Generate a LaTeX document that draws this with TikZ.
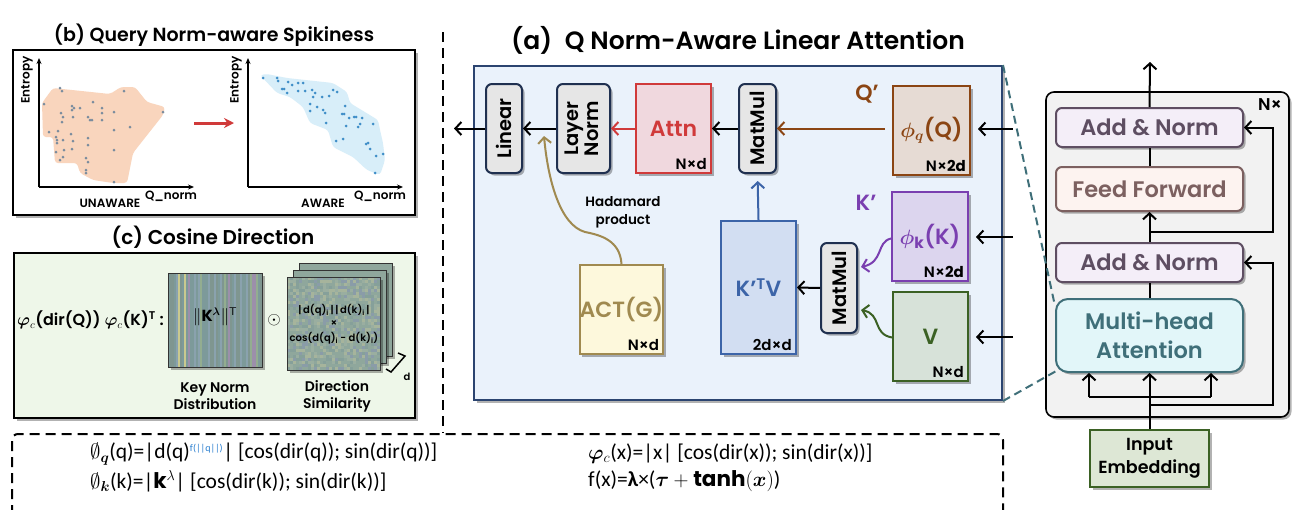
\documentclass[tikz,border=0pt]{standalone}
\usepackage{amsmath,amssymb,bm}
\usepackage{fontspec}
\setmainfont{Poppins}[UprightFont={* SemiBold},BoldFont={* Bold}]
\newfontfamily\formfont{Carlito}
\usetikzlibrary{arrows.meta,shadows,calc}
\newcommand{\myfs}[2]{\fontsize{#1}{#2}\selectfont}
\definecolor{bigfill}{HTML}{EAF2FB}
\definecolor{bigdraw}{HTML}{2B4470}
\definecolor{gfill}{HTML}{E6E6E6}
\definecolor{gdraw}{HTML}{1F3050}
\definecolor{attnfill}{HTML}{F0D8DE}
\definecolor{attnc}{HTML}{D03A3A}
\definecolor{qfill}{HTML}{E6DBD4}
\definecolor{qc}{HTML}{8B4513}
\definecolor{kfill}{HTML}{DCD5EE}
\definecolor{kc}{HTML}{7A3FB0}
\definecolor{vfill}{HTML}{D7E2D9}
\definecolor{vc}{HTML}{3B6124}
\definecolor{ktvfill}{HTML}{D2DEF2}
\definecolor{ktvc}{HTML}{3C64A8}
\definecolor{actfill}{HTML}{FDF8DC}
\definecolor{actc}{HTML}{A08A50}
\definecolor{tfill}{HTML}{F2F2F2}
\definecolor{anfill}{HTML}{F4EEF8}
\definecolor{anc}{HTML}{5E4E62}
\definecolor{fffill}{HTML}{FDF3F0}
\definecolor{ffc}{HTML}{7C6060}
\definecolor{mhafill}{HTML}{E2F6F9}
\definecolor{mhac}{HTML}{3F6F79}
\definecolor{infill}{HTML}{DDE7D5}
\definecolor{orblob}{HTML}{F9D5BD}
\definecolor{ordot}{HTML}{7A8C9E}
\definecolor{blblob}{HTML}{D8EEF9}
\definecolor{bldot}{HTML}{3F8EC8}
\definecolor{cfill}{HTML}{EEF7E9}
\definecolor{supblue}{HTML}{2A7FD0}
\definecolor{st1}{HTML}{7D9A9A}
\definecolor{st2}{HTML}{8AA2AE}
\definecolor{st3}{HTML}{9C8FAA}
\definecolor{st4}{HTML}{C9C98F}
\definecolor{st5}{HTML}{93AD90}
\definecolor{st6}{HTML}{7F9690}
\definecolor{nz1}{HTML}{8FA79C}
\definecolor{nz2}{HTML}{9AAEA0}
\definecolor{nz3}{HTML}{86A09A}
\definecolor{nz4}{HTML}{A6B49C}
\definecolor{nz5}{HTML}{8A9CA8}
\begin{document}
\begin{tikzpicture}[x=1pt,y=-1pt,
  arr/.style={line width=2pt,-{Straight Barb[length=6pt,width=13pt]}},
  plain/.style={line width=2pt},
  shad/.style={drop shadow={shadow xshift=2.5pt,shadow yshift=-2.5pt,opacity=0.3,fill=black}},
  box/.style={draw,line width=2pt,inner sep=0pt,shad},
  gbox/.style={box,rounded corners=6pt,fill=gfill,draw=gdraw,minimum height=89,font=\myfs{19.5}{23}},
  dimlab/.style={anchor=south east,inner sep=0pt,font=\myfs{15}{17}},
  bigtxt/.style={font=\myfs{22}{26}},
  tbox/.style={box,rounded corners=6pt,minimum width=187,font=\myfs{22.5}{27}},
  bdash/.style={line width=2pt,dash pattern=on 10pt off 6pt},
  tdash/.style={line width=2pt,draw=mhac,dash pattern=on 8pt off 5pt},
  odot/.style={fill=ordot,circle,inner sep=0pt,minimum size=3pt},
  bdot/.style={fill=bldot,circle,inner sep=0pt,minimum size=3pt},
  small/.style={font=\myfs{12}{14}},
  axis/.style={line width=1.2pt,-{Stealth[length=6pt,width=5pt]}}
]
\useasboundingbox (0,0) rectangle (1312,509);
\fill[white] (0,0) rectangle (1312,509);

% ================= panel (b) =================
\node[font=\myfs{19}{22}] (titleb) at (214,35) {(b) Query Norm-aware Spikiness};
\draw[line width=1.5pt,fill=white,shad] (13,50) rectangle (415,215);
\fill[orblob,rounded corners=3pt] (42,103) -- (53,88) -- (110,94) -- (121,87) -- (135,87) -- (147,102) -- (165,107) -- (163,115) -- (133,153) -- (127,183) -- (113,183) -- (93,180) -- (80,173) -- (77,163) -- (55,163) -- (53,137) -- (43,137) -- cycle;
\foreach \p in {(44,104),(60,88),(62,91),(93,102),(72,106),(74,108),(80,108),(72,110),(61,113),(63,117),(73,117),(88,117),(90,120),(92,120),(102,108),(102,113),(102,120),(114,112),(114,130),(130,127),(124,91),(163,112),(49,132),(58,131),(56,137),(71,134),(57,140),(57,143),(63,140),(73,141),(72,149),(88,138),(88,145),(56,152),(64,150),(63,157),(60,160),(86,158),(88,162),(114,150),(86,170),(86,173),(114,182),(62,122)}
  \node[odot] at \p {};
\fill[blblob,rounded corners=3pt] (260,75) -- (267,74) -- (287,78) -- (333,83) -- (347,92) -- (350,103) -- (378,120) -- (380,130) -- (383,143) -- (385,160) -- (380,175) -- (367,170) -- (353,157) -- (333,147) -- (328,130) -- (310,123) -- (303,107) -- (290,97) -- (277,93) -- cycle;
\foreach \p in {(263,78),(277,78),(278,81),(288,82),(292,85),(298,83),(303,83),(282,89),(284,89),(287,93),(298,91),(305,91),(312,90),(315,93),(313,97),(322,97),(329,96),(333,90),(337,92),(310,104),(310,111),(317,107),(323,110),(325,113),(326,123),(345,106),(342,114),(344,114),(349,118),(354,117),(356,117),(362,118),(346,126),(358,127),(360,124),(373,124),(336,141),(343,139),(366,144),(368,143),(370,149),(376,156),(383,154),(375,173)}
  \node[bdot] at \p {};
\coordinate (o1) at (39,187);
\draw[axis] (o1) -- (39,58);
\draw[axis] (o1) -- (194,187);
\node[small,rotate=90] (ent1) at (27,80) {Entropy};
\node[small] (qn1) at (171,196) {Q\_norm};
\node[small] (un) at (110,203) {UNAWARE};
\coordinate (o2) at (248,187);
\draw[axis] (o2) -- (248,58);
\draw[axis] (o2) -- (403,187);
\node[small,rotate=90] (ent2) at (236,80) {Entropy};
\node[small] (qn2) at (380,196) {Q\_norm};
\node[small] (aw) at (323,203) {AWARE};
\coordinate (ra) at (194,123);
\coordinate (rb) at (234,123);
\draw[line width=3pt,attnc,-{Stealth[length=10pt,width=10pt]}] (ra) -- (rb);

% ================= panel (c) =================
\node[font=\myfs{20}{23}] (titlec) at (213,237) {(c) Cosine Direction};
\draw[line width=1.5pt,fill=cfill,shad] (14,253) rectangle (415,418);
\node[anchor=west,inner sep=0pt,font=\myfs{16}{19}] (cform) at (17,320) {$\boldsymbol{\varphi}_{c}$(dir(Q)) $\boldsymbol{\varphi}_{c}$(K)\textsuperscript{T} :};
% key norm matrix
\fill[black,opacity=0.3] (170.5,275.5) rectangle ++(94,94);
\pgfmathsetseed{11}
\pgfmathdeclarerandomlist{stripecols}{{st1}{st1}{st2}{st6}{st1}{st3}{st4}{st5}{st2}{st6}}
\foreach \i in {0,...,46} {
  \pgfmathrandomitem{\sc}{stripecols}
  \fill[\sc] (168+\i*2,273) rectangle ++(2,94);
}
\draw[line width=1pt,black!80] (168,273) rectangle (262,367);
\node[font=\myfs{16}{18}] (knorm) at (215,317) {$\|\mathbf{K}^{\boldsymbol{\lambda}}\|^{\mathsf{T}}$};
\node[font=\myfs{19}{20}] (hada) at (274,320) {$\odot$};
% direction similarity stack
\foreach \dx/\dy in {12/-14,6/-7} {
  \fill[black,opacity=0.3] (289.5+\dx,279.5+\dy) rectangle ++(93,93);
  \fill[nz1] (287+\dx,277+\dy) rectangle ++(93,93);
  \draw[line width=1pt,black!80] (287+\dx,277+\dy) rectangle ++(93,93);
}
\fill[black,opacity=0.3] (289.5,279.5) rectangle ++(93,93);
\pgfmathdeclarerandomlist{noisecols}{{nz1}{nz2}{nz3}{nz4}{nz5}{nz1}}
\foreach \i in {0,...,30} {
  \foreach \j in {0,...,30} {
    \pgfmathrandomitem{\nc}{noisecols}
    \fill[\nc] (287+\i*3,277+\j*3) rectangle ++(3,3);
  }
}
\draw[line width=1pt,black!80] (287,277) rectangle (380,370);
\node[font=\myfs{10}{12}] (ds1) at (334,310) {|\,d(q)\textsubscript{i}\,|\,|\,d(k)\textsubscript{i}\,|};
\node[font=\myfs{10}{12}] (ds2) at (334,324) {×};
\node[font=\myfs{10}{12}] (ds3) at (334,338) {cos(d(q)\textsubscript{i} - d(k)\textsubscript{i})};
\draw[line width=1.5pt] (398,353) -- (405,356) -- (391,372) -- (386,369);
\node[font=\myfs{10}{12}] (dlab) at (407,377) {d};
\node[align=center,font=\myfs{14}{17}] (kcap) at (215,396) {Key Norm\\Distribution};
\node[align=center,font=\myfs{14}{17}] (dcap) at (337,396) {Direction\\Similarity};

% ================= separators =================
\draw[bdash] (443,32) -- (443,433);
\draw[bdash,rounded corners=6pt] (12,515) -- (12,434) -- (1003,434) -- (1003,515);

% ================= panel (a) =================
\node[font=\myfs{25}{29}] (titlea) at (738,40) {(a)\enspace Q Norm-Aware Linear Attention};
\node[box,fill=bigfill,draw=bigdraw,minimum width=528,minimum height=334] (big) at (738,233) {};
\node[gbox,minimum width=36] (linear) at (504,128.5) {\rotatebox{90}{Linear}};
\node[gbox,minimum width=53] (ln) at (583.5,128.5) {\rotatebox{90}{\begin{tabular}{@{}c@{}}Layer\\[-3pt]Norm\end{tabular}}};
\node[box,fill=attnfill,draw=attnc,text=attnc,minimum width=75,minimum height=89,bigtxt] (attn) at (673.5,128.5) {Attn};
\node[gbox,minimum width=37] (mm1) at (757.5,128.5) {\rotatebox{90}{MatMul}};
\node[box,fill=qfill,draw=qc,text=qc,minimum width=77,minimum height=89,bigtxt] (phiq) at (931.5,130.5) {$\boldsymbol{\phi}_{\boldsymbol{q}}$(Q)};
\node[box,fill=kfill,draw=kc,text=kc,minimum width=76,minimum height=89,bigtxt] (phik) at (930,236.5) {$\boldsymbol{\phi}_{\mathbf{k}}$(K)};
\node[box,fill=vfill,draw=vc,text=vc,minimum width=75,minimum height=89,bigtxt] (vv) at (930.5,336.5) {V};
\node[gbox,minimum width=36,minimum height=90] (mm2) at (839,288) {\rotatebox{90}{MatMul}};
\node[box,fill=ktvfill,draw=ktvc,text=ktvc,minimum width=75,minimum height=133,bigtxt] (ktv) at (758.5,287.5) {K’\textsuperscript{T}V};
\node[box,fill=actfill,draw=actc,text=actc,minimum width=75,minimum height=89,bigtxt] (act) at (621.5,309.5) {ACT(G)};
\node[dimlab] at ([xshift=-5pt,yshift=4pt]attn.south east) {N×d};
\node[dimlab] at ([xshift=-5pt,yshift=4pt]phiq.south east) {N×\textbf{2d}};
\node[dimlab] at ([xshift=-5pt,yshift=4pt]phik.south east) {N×\textbf{2d}};
\node[dimlab] at ([xshift=-5pt,yshift=4pt]vv.south east) {N×d};
\node[dimlab] at ([xshift=-5pt,yshift=4pt]ktv.south east) {2d×d};
\node[dimlab] at ([xshift=-5pt,yshift=4pt]act.south east) {N×d};
\node[bigtxt,text=qc] (qlab) at (867,94) {Q’};
\node[bigtxt,text=kc] (klab) at (866,203) {K’};
\node[align=center,font=\myfs{13.5}{18}] (hlab) at (623,212) {Hadamard\\product};
% arrows
\coordinate (out) at (454,128.5);
\draw[arr,qc,shorten <=7pt] (mm1.east -| phiq.west) -- (mm1.east);
\draw[arr] (mm1.west) -- (attn.east);
\draw[arr,attnc] (attn.west) -- (ln.east);
\draw[arr] (ln.west) -- (linear.east);
\draw[arr] (linear.west) -- (out);
\draw[arr,ktvc,shorten >=7pt] (ktv.north) -- (mm1.south);
\draw[arr] (mm2.west) -- (ktv.east);
\draw[arr,kc] ([yshift=-2pt]phik.west) .. controls (876,242) and (884,262) .. ([xshift=3pt,yshift=21pt]mm2.east);
\draw[arr,vc] ([yshift=-1pt]vv.west) .. controls (872,334) and (882,314) .. ([xshift=3pt,yshift=-22pt]mm2.east);
\draw[arr,actc] (act.north) .. controls (620,240) and (600,235) .. (585,232) .. controls (560,225) and (548,180) .. (544,136);
\coordinate (qin) at (1013,129);
\coordinate (kin) at (1013,237);
\coordinate (vin) at (1013,337);
\draw[arr,shorten >=7pt] (qin) -- (qin -| phiq.east);
\draw[arr,shorten >=7pt] (kin) -- (kin -| phik.east);
\draw[arr,shorten >=7pt] (vin) -- (vin -| vv.east);

% ================= transformer =================
\draw[line width=1.6pt,fill=tfill,rounded corners=8pt,shad] (1046,92) rectangle (1289,417);
\node[font=\myfs{17}{18}] (nx) at (1270,105) {N×};
\node[tbox,fill=anfill,draw=anc,text=anc,minimum height=39] (an2) at (1149.5,127.5) {Add \& Norm};
\node[tbox,fill=fffill,draw=ffc,text=ffc,minimum height=44] (ff) at (1149.5,189) {Feed Forward};
\node[tbox,fill=anfill,draw=anc,text=anc,minimum height=39] (an1) at (1149.5,262.5) {Add \& Norm};
\node[tbox,fill=mhafill,draw=mhac,text=mhac,minimum height=73,rounded corners=12pt,align=center,font=\myfs{22.5}{29}] (mha) at (1149.5,335.5) {Multi-head\\Attention};
\node[box,fill=infill,draw=vc,minimum width=119,minimum height=57,align=center,font=\myfs{17.5}{23}] (inp) at (1149.5,458.5) {Input\\Embedding};
\coordinate (bl) at (1089,397);
\coordinate (brr) at (1211,397);
\coordinate (res1) at (1150,405);
\coordinate (res2) at (1150,232);
\coordinate (top) at (1150,62);
\draw[arr] (inp.north) -- (mha.south);
\draw[plain] (bl) -- (brr);
\draw[arr] (bl) -- (bl |- mha.south);
\draw[arr] (brr) -- (brr |- mha.south);
\draw[arr] (res1) -| ($(an1.east)+(29,0)$) -- (an1.east);
\draw[plain] (mha.north) -- (an1.south);
\draw[arr] (an1.north) -- (ff.south);
\draw[arr] (res2) -| ($(an2.east)+(29,0)$) -- (an2.east);
\draw[plain] (ff.north) -- (an2.south);
\draw[arr] (an2.north) -- (top);
% teal dashed zoom lines
\draw[tdash] (big.north east) -- ([yshift=-8pt]mha.north west);
\draw[tdash] (big.south east) -- ($(mha.south west)+(3,-3)$);

% ================= bottom formulas =================
\node[anchor=west,inner sep=0pt,font=\myfs{21.5}{24}] (f1) at (90,454) {\formfont $\emptyset_{\boldsymbol{q}}$(q)=|d(q)\textsuperscript{\color{supblue}\myfs{10}{11}f(||q||)}| [cos(dir(q)); sin(dir(q))]};
\node[anchor=west,inner sep=0pt,font=\myfs{21.5}{24}] (f2) at (90,481) {\formfont $\emptyset_{\boldsymbol{k}}$(k)=|$\mathbf{k}^{\lambda}$| [cos(dir(k)); sin(dir(k))]};
\node[anchor=west,inner sep=0pt,font=\myfs{21.5}{24}] (f3) at (588,454) {\formfont $\boldsymbol{\varphi}_{c}$(x)=|x| [cos(dir(x)); sin(dir(x))]};
\node[anchor=west,inner sep=0pt,font=\myfs{21.5}{24}] (f4) at (588,481) {\formfont f(x)=\textbf{λ}×($\boldsymbol{\tau}+\mathbf{tanh}(\boldsymbol{x})$)};
\end{tikzpicture}
\end{document}
